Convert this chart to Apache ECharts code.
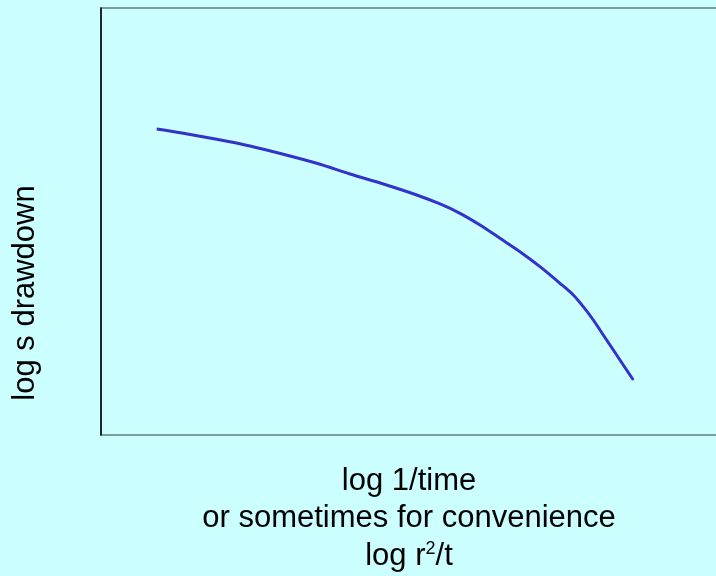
<!DOCTYPE html>
<html>
<head>
<meta charset="utf-8">
<script src="https://cdn.jsdelivr.net/npm/echarts@6/dist/echarts.min.js"></script>
<style>
  html, body { margin: 0; padding: 0; background: #CCFFFF; overflow: hidden; width: 716px; height: 576px; }
  #chart { width: 736px; height: 576px; }
</style>
</head>
<body>
<div id="chart"></div>
<script>
// Curve (arbitrary log units, 0-100 on each axis)
const logInvTime = [8.77, 12.96, 18.22, 23.46, 28.71, 33.97, 39.21, 44.46, 49.72, 53.39, 56.54, 59.69, 62.83, 65.98, 69.13, 72.28, 74.38, 75.95, 77.53, 79.10, 80.68, 82.25, 83.83];
const logDrawdown = [71.66, 70.66, 69.25, 67.68, 65.74, 63.63, 61.12, 58.78, 56.21, 54.10, 51.92, 49.18, 46.07, 42.93, 39.42, 35.53, 32.79, 30.05, 26.93, 23.42, 19.91, 16.39, 12.88];

const yTitle = 'log s drawdown';
const xTitleLines = ['log 1/time', 'or sometimes for convenience', 'log r{sup|2}/t'];

const chart = echarts.init(document.getElementById('chart'));
const font = '"Liberation Sans", Arial, sans-serif';

const textStyleBase = {
  fill: '#000000', fontSize: 31, fontFamily: font, align: 'center', verticalAlign: 'middle',
  rich: { sup: { fontSize: 18, fontFamily: font, fill: '#000000', verticalAlign: 'top', lineHeight: 31 } }
};
const xTitleY = [481, 518, 556];

chart.setOption({
  backgroundColor: '#CCFFFF',
  animation: false,
  grid: {
    left: 101, top: 8, right: 0, bottom: 141,
    show: true, borderColor: '#5F7F7F', borderWidth: 1.5, backgroundColor: 'transparent'
  },
  xAxis: {
    type: 'value', min: 0, max: 100,
    axisLine: { show: false }, axisTick: { show: false },
    axisLabel: { show: false }, splitLine: { show: false }
  },
  yAxis: {
    type: 'value', min: 0, max: 100,
    axisLine: { show: true, lineStyle: { color: '#000000', width: 1.5 } },
    axisTick: { show: false }, axisLabel: { show: false }, splitLine: { show: false }
  },
  series: [{
    type: 'line',
    data: logInvTime.map((x, i) => [x, logDrawdown[i]]),
    smooth: 0.3,
    symbol: 'none',
    lineStyle: { color: '#3333CC', width: 3 }
  }],
  graphic: [
    {
      type: 'text', x: 25.5, y: 293, rotation: Math.PI / 2,
      style: Object.assign({ text: yTitle }, textStyleBase)
    }
  ].concat(xTitleLines.map((t, i) => ({
    type: 'text', x: 409, y: xTitleY[i],
    style: Object.assign({ text: t }, textStyleBase)
  })))
});
</script>
</body>
</html>
